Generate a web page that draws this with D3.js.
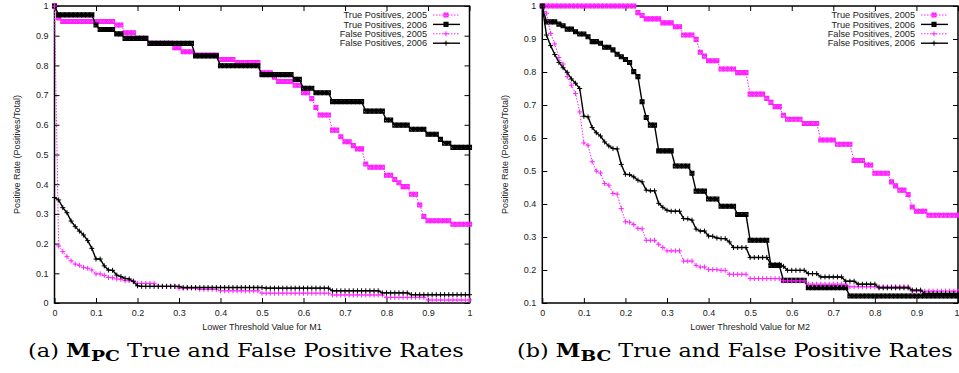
<!DOCTYPE html>
<html><head><meta charset="utf-8">
<script src="https://cdn.jsdelivr.net/npm/d3@7"></script>
<style>body{margin:0;background:#fff}svg{display:block}</style>
</head><body>
<svg id="c" width="959" height="373"></svg>
<script>
// ---------- DATA ----------
const thresholds = d3.range(101).map(i => i / 100);
const xTicks = [0, 0.1, 0.2, 0.3, 0.4, 0.5, 0.6, 0.7, 0.8, 0.9, 1];
const xTickLabels = ["0", "0.1", "0.2", "0.3", "0.4", "0.5", "0.6", "0.7", "0.8", "0.9", "1"];
const yTicksA = [0, 0.1, 0.2, 0.3, 0.4, 0.5, 0.6, 0.7, 0.8, 0.9, 1];
const yTickLabelsA = ["0", "0.1", "0.2", "0.3", "0.4", "0.5", "0.6", "0.7", "0.8", "0.9", "1"];
const yTicksB = [0.1, 0.2, 0.3, 0.4, 0.5, 0.6, 0.7, 0.8, 0.9, 1];
const yTickLabelsB = ["0.1", "0.2", "0.3", "0.4", "0.5", "0.6", "0.7", "0.8", "0.9", "1"];
const seriesNames = ["True Positives, 2005", "True Positives, 2006", "False Positives, 2005", "False Positives, 2006"];

// (a) M_PC
const mpcTP2005 = [
  1.0, 0.96, 0.948, 0.948, 0.948, 0.948, 0.948, 0.948, 0.948, 0.948,
  0.948, 0.948, 0.948, 0.948, 0.948, 0.936, 0.936, 0.91, 0.91, 0.91,
  0.891, 0.891, 0.891, 0.874, 0.874, 0.874, 0.874, 0.874, 0.874, 0.86,
  0.86, 0.846, 0.846, 0.846, 0.835, 0.835, 0.835, 0.835, 0.835, 0.835,
  0.82, 0.82, 0.82, 0.82, 0.81, 0.81, 0.81, 0.81, 0.81, 0.81,
  0.775, 0.775, 0.775, 0.76, 0.746, 0.746, 0.746, 0.746, 0.733, 0.733,
  0.708, 0.708, 0.688, 0.658, 0.633, 0.633, 0.633, 0.582, 0.582, 0.56,
  0.543, 0.543, 0.53, 0.519, 0.519, 0.468, 0.457, 0.457, 0.457, 0.457,
  0.43, 0.43, 0.416, 0.405, 0.392, 0.392, 0.366, 0.366, 0.33, 0.291,
  0.277, 0.277, 0.277, 0.277, 0.277, 0.277, 0.265, 0.265, 0.265, 0.265, 0.265];
const mpcTP2006 = [
  1.0, 0.97, 0.97, 0.97, 0.97, 0.97, 0.97, 0.97, 0.97, 0.97,
  0.936, 0.921, 0.921, 0.921, 0.921, 0.906, 0.906, 0.891, 0.891, 0.891,
  0.891, 0.891, 0.891, 0.874, 0.874, 0.874, 0.874, 0.874, 0.874, 0.874,
  0.874, 0.874, 0.874, 0.874, 0.832, 0.832, 0.832, 0.832, 0.832, 0.832,
  0.799, 0.799, 0.799, 0.799, 0.799, 0.799, 0.799, 0.799, 0.799, 0.799,
  0.769, 0.769, 0.769, 0.769, 0.769, 0.769, 0.769, 0.769, 0.753, 0.753,
  0.723, 0.723, 0.723, 0.708, 0.708, 0.708, 0.708, 0.678, 0.678, 0.678,
  0.678, 0.678, 0.678, 0.678, 0.678, 0.646, 0.646, 0.646, 0.646, 0.646,
  0.616, 0.616, 0.599, 0.599, 0.599, 0.599, 0.585, 0.585, 0.585, 0.585,
  0.568, 0.568, 0.568, 0.551, 0.538, 0.538, 0.524, 0.524, 0.524, 0.524, 0.524];
const mpcFP2005 = [
  1.0, 0.192, 0.173, 0.156, 0.142, 0.131, 0.127, 0.12, 0.117, 0.111,
  0.098, 0.098, 0.093, 0.086, 0.085, 0.081, 0.08, 0.075, 0.075, 0.075,
  0.066, 0.066, 0.066, 0.066, 0.066, 0.056, 0.056, 0.056, 0.056, 0.056,
  0.05, 0.05, 0.05, 0.05, 0.05, 0.046, 0.046, 0.046, 0.046, 0.046,
  0.041, 0.041, 0.041, 0.041, 0.041, 0.041, 0.041, 0.041, 0.041, 0.041,
  0.033, 0.033, 0.033, 0.033, 0.033, 0.033, 0.033, 0.033, 0.033, 0.033,
  0.033, 0.033, 0.033, 0.033, 0.033, 0.033, 0.033, 0.027, 0.027, 0.027,
  0.027, 0.027, 0.027, 0.027, 0.027, 0.027, 0.027, 0.027, 0.027, 0.027,
  0.019, 0.019, 0.019, 0.019, 0.019, 0.019, 0.019, 0.019, 0.019, 0.019,
  0.01, 0.01, 0.01, 0.01, 0.01, 0.01, 0.01, 0.01, 0.01, 0.01, 0.01];
const mpcFP2006 = [
  0.355, 0.347, 0.321, 0.304, 0.276, 0.257, 0.242, 0.229, 0.21, 0.184,
  0.148, 0.148, 0.125, 0.111, 0.11, 0.094, 0.089, 0.083, 0.081, 0.072,
  0.058, 0.056, 0.056, 0.056, 0.056, 0.056, 0.056, 0.056, 0.056, 0.056,
  0.056, 0.052, 0.052, 0.052, 0.052, 0.052, 0.052, 0.052, 0.052, 0.052,
  0.052, 0.052, 0.052, 0.052, 0.052, 0.052, 0.052, 0.052, 0.052, 0.052,
  0.052, 0.05, 0.05, 0.05, 0.05, 0.05, 0.05, 0.05, 0.05, 0.05,
  0.05, 0.05, 0.05, 0.05, 0.05, 0.05, 0.05, 0.041, 0.041, 0.041,
  0.041, 0.041, 0.041, 0.041, 0.041, 0.041, 0.041, 0.041, 0.041, 0.034,
  0.034, 0.034, 0.034, 0.034, 0.034, 0.034, 0.028, 0.028, 0.028, 0.028,
  0.028, 0.028, 0.028, 0.028, 0.028, 0.028, 0.028, 0.028, 0.028, 0.028, 0.028];

// (b) M_BC
const mbcTP2005 = [
  1.0, 1.0, 1.0, 1.0, 1.0, 1.0, 1.0, 1.0, 1.0, 1.0,
  1.0, 1.0, 1.0, 1.0, 1.0, 1.0, 1.0, 1.0, 1.0, 1.0,
  1.0, 1.0, 1.0, 0.98, 0.971, 0.961, 0.961, 0.961, 0.961, 0.949,
  0.949, 0.949, 0.937, 0.937, 0.912, 0.912, 0.912, 0.899, 0.86, 0.848,
  0.834, 0.834, 0.834, 0.809, 0.809, 0.809, 0.809, 0.798, 0.798, 0.798,
  0.733, 0.733, 0.733, 0.733, 0.72, 0.708, 0.695, 0.695, 0.669, 0.657,
  0.657, 0.657, 0.657, 0.644, 0.644, 0.644, 0.644, 0.594, 0.594, 0.594,
  0.594, 0.581, 0.581, 0.581, 0.581, 0.532, 0.532, 0.532, 0.518, 0.518,
  0.493, 0.493, 0.493, 0.493, 0.467, 0.455, 0.442, 0.442, 0.429, 0.391,
  0.378, 0.378, 0.378, 0.366, 0.366, 0.366, 0.366, 0.366, 0.366, 0.366, 0.366];
const mbcTP2006 = [
  1.0, 0.952, 0.952, 0.952, 0.945, 0.94, 0.93, 0.93, 0.922, 0.915,
  0.915, 0.907, 0.892, 0.892, 0.887, 0.875, 0.875, 0.867, 0.854, 0.846,
  0.838, 0.829, 0.801, 0.786, 0.71, 0.662, 0.639, 0.639, 0.561, 0.561,
  0.561, 0.561, 0.515, 0.515, 0.515, 0.515, 0.493, 0.439, 0.439, 0.439,
  0.415, 0.415, 0.415, 0.393, 0.393, 0.393, 0.393, 0.368, 0.368, 0.368,
  0.29, 0.29, 0.29, 0.29, 0.29, 0.214, 0.214, 0.214, 0.169, 0.169,
  0.169, 0.169, 0.169, 0.169, 0.146, 0.146, 0.146, 0.146, 0.146, 0.146,
  0.146, 0.146, 0.146, 0.146, 0.121, 0.121, 0.121, 0.121, 0.121, 0.121,
  0.121, 0.121, 0.121, 0.121, 0.121, 0.121, 0.121, 0.121, 0.121, 0.121,
  0.121, 0.121, 0.121, 0.121, 0.121, 0.121, 0.121, 0.121, 0.121, 0.121, 0.121];
const mbcFP2005 = [
  1.0, 0.978, 0.917, 0.885, 0.844, 0.824, 0.786, 0.76, 0.735, 0.679,
  0.585, 0.578, 0.528, 0.5, 0.494, 0.462, 0.457, 0.432, 0.43, 0.386,
  0.346, 0.345, 0.338, 0.326, 0.325, 0.29, 0.29, 0.29, 0.278, 0.268,
  0.258, 0.258, 0.258, 0.258, 0.227, 0.227, 0.227, 0.214, 0.209, 0.209,
  0.201, 0.201, 0.201, 0.199, 0.199, 0.187, 0.187, 0.187, 0.187, 0.187,
  0.174, 0.174, 0.174, 0.174, 0.174, 0.174, 0.174, 0.174, 0.167, 0.167,
  0.167, 0.167, 0.167, 0.167, 0.157, 0.157, 0.157, 0.157, 0.157, 0.157,
  0.157, 0.157, 0.157, 0.157, 0.149, 0.149, 0.149, 0.149, 0.149, 0.149,
  0.149, 0.149, 0.149, 0.149, 0.149, 0.149, 0.149, 0.149, 0.149, 0.136,
  0.136, 0.136, 0.136, 0.136, 0.136, 0.136, 0.136, 0.136, 0.136, 0.136, 0.136];
const mbcFP2006 = [
  1.0, 0.912, 0.88, 0.853, 0.829, 0.813, 0.799, 0.779, 0.766, 0.75,
  0.666, 0.664, 0.632, 0.616, 0.606, 0.588, 0.576, 0.568, 0.567, 0.52,
  0.49, 0.489, 0.482, 0.472, 0.467, 0.442, 0.44, 0.44, 0.402, 0.39,
  0.381, 0.378, 0.378, 0.378, 0.356, 0.355, 0.351, 0.324, 0.318, 0.318,
  0.303, 0.302, 0.297, 0.295, 0.295, 0.285, 0.268, 0.268, 0.268, 0.268,
  0.238, 0.238, 0.238, 0.238, 0.238, 0.217, 0.217, 0.217, 0.211, 0.199,
  0.199, 0.199, 0.199, 0.199, 0.189, 0.189, 0.189, 0.179, 0.179, 0.179,
  0.179, 0.179, 0.179, 0.166, 0.166, 0.166, 0.157, 0.157, 0.157, 0.157,
  0.157, 0.146, 0.146, 0.146, 0.146, 0.146, 0.146, 0.146, 0.146, 0.139,
  0.139, 0.139, 0.129, 0.129, 0.129, 0.129, 0.129, 0.129, 0.129, 0.129, 0.129];

// ---------- DRAWING ----------
const svg = d3.select("#c");
const PINK = "#ff22ff";
const styles = [
  {color: PINK, width: 1, dash: "1.5,1.5", marker: "box"},
  {color: "#000", width: 1.4, dash: null, marker: "box"},
  {color: PINK, width: 1, dash: "1.5,1.5", marker: "plus"},
  {color: "#000", width: 1.4, dash: null, marker: "plus"}
];
const boxPath = "M-2,-2h4v4h-4z M-2,-2L2,2 M2,-2L-2,2";
const plusPath = "M-2.5,0H2.5 M0,-2.5V2.5";
const FONT = "'Liberation Sans', Arial, Helvetica, sans-serif";

function marker(sel, st) {
  sel.attr("d", st.marker === "box" ? boxPath : plusPath)
    .attr("fill", st.marker === "box" ? st.color : "none")
    .attr("fill-opacity", 0.45)
    .attr("stroke", st.color).attr("stroke-width", st.marker === "box" ? 1.1 : 1);
}

function panel(cfg) {
  const g = svg.append("g");
  const x = d3.scaleLinear().domain([0, 1]).range([cfg.x0, cfg.x1]);
  const y = d3.scaleLinear().domain(cfg.yDomain).range([303, 6]);

  const styleAxis = sel => {
    sel.select(".domain").remove();
    sel.selectAll(".tick line").attr("stroke", "#000").attr("stroke-width", 1);
    sel.selectAll(".tick text").attr("fill", "#222").style("font-family", FONT).style("font-size", "9px");
  };
  const bottom = g.append("g").attr("transform", "translate(0,303)")
    .call(d3.axisBottom(x).tickValues(xTicks).tickFormat((d, i) => xTickLabels[i]).tickSizeInner(-5).tickSizeOuter(0).tickPadding(6.5))
    .call(styleAxis);
  if (cfg.x1 > 950) {
    // the last label sits on the page edge: keep it just inside
    bottom.selectAll(".tick text").filter(d => d === 1).attr("text-anchor", "end").attr("x", 959 - cfg.x1);
  }
  g.append("g").attr("transform", "translate(0,6)")
    .call(d3.axisTop(x).tickValues(xTicks).tickFormat("").tickSizeInner(-5).tickSizeOuter(0))
    .call(styleAxis);
  g.append("g").attr("transform", `translate(${cfg.x0},0)`)
    .call(d3.axisLeft(y).tickValues(cfg.yTicks).tickFormat((d, i) => cfg.yTickLabels[i]).tickSizeInner(-5).tickSizeOuter(0).tickPadding(6))
    .call(styleAxis);
  g.append("g").attr("transform", `translate(${cfg.x1},0)`)
    .call(d3.axisRight(y).tickValues(cfg.yTicks).tickFormat("").tickSizeInner(-5).tickSizeOuter(0))
    .call(styleAxis);

  // frame
  g.append("rect").attr("x", cfg.x0).attr("y", 6).attr("width", cfg.x1 - cfg.x0).attr("height", 297)
    .attr("fill", "none").attr("stroke", "#000").attr("stroke-width", 1.5);

  // axis titles
  g.append("text").attr("x", (cfg.x0 + cfg.x1) / 2).attr("y", 330).attr("text-anchor", "middle")
    .style("font-family", FONT).style("font-size", "9px").attr("fill", "#222").text(cfg.xTitle);
  g.append("text").attr("transform", `translate(${cfg.yTitleX},154.5) rotate(-90)`).attr("text-anchor", "middle")
    .style("font-family", FONT).style("font-size", "9px").attr("fill", "#222").text("Positive Rate (Positives/Total)");

  // series
  const line = d3.line().x((d, i) => x(thresholds[i])).y(d => y(d));
  cfg.series.forEach((vals, k) => {
    const st = styles[k];
    const sg = g.append("g");
    sg.append("path").attr("d", line(vals)).attr("fill", "none").attr("stroke", st.color)
      .attr("stroke-width", st.width).attr("stroke-dasharray", st.dash);
    sg.selectAll("path.m").data(vals).join("path").attr("class", "m")
      .attr("transform", (d, i) => `translate(${x(thresholds[i])},${y(d)})`)
      .call(marker, st);
  });

  // legend
  const lg = g.append("g");
  seriesNames.forEach((name, k) => {
    const st = styles[k];
    const cy = 15 + k * 9.4;
    lg.append("text").attr("x", cfg.legX).attr("y", cy + 3.2).attr("text-anchor", "end")
      .style("font-family", FONT).style("font-size", "9.2px").attr("fill", "#222").text(name);
    lg.append("line").attr("x1", cfg.legX + 6).attr("x2", cfg.legX + 33).attr("y1", cy).attr("y2", cy)
      .attr("stroke", st.color).attr("stroke-width", st.width).attr("stroke-dasharray", st.dash);
    lg.append("path").attr("transform", `translate(${cfg.legX + 19},${cy})`).call(marker, st);
  });

  // caption
  const cap = svg.append("text").attr("x", cfg.capX).attr("y", 357)
    .style("font-family", "'DejaVu Serif', 'Liberation Serif', serif").style("font-size", "18px").attr("fill", "#000");
  cap.append("tspan").text(cfg.capPrefix + " ");
  cap.append("tspan").style("font-weight", "bold").text("M");
  cap.append("tspan").style("font-weight", "bold").style("font-size", "15px").attr("dy", 4).text(cfg.capSub);
  cap.append("tspan").attr("dy", -4).text(" True and False Positive Rates");
  const w = cap.node().getComputedTextLength();
  const s = cfg.capW / w;
  cap.attr("transform", `translate(${cfg.capX},0) scale(${s},1) translate(${-cfg.capX},0)`);
}

panel({x0: 54.5, x1: 469.5, yDomain: [0, 1], yTicks: yTicksA, yTickLabels: yTickLabelsA,
  xTitle: "Lower Threshold Value for M1", yTitleX: 19.5, legX: 427,
  series: [mpcTP2005, mpcTP2006, mpcFP2005, mpcFP2006],
  capX: 28, capW: 436, capPrefix: "(a)", capSub: "PC"});
panel({x0: 542.3, x1: 958, yDomain: [0.1, 1], yTicks: yTicksB, yTickLabels: yTickLabelsB,
  xTitle: "Lower Threshold Value for M2", yTitleX: 507.5, legX: 915,
  series: [mbcTP2005, mbcTP2006, mbcFP2005, mbcFP2006],
  capX: 517, capW: 436, capPrefix: "(b)", capSub: "BC"});
</script>
</body></html>
